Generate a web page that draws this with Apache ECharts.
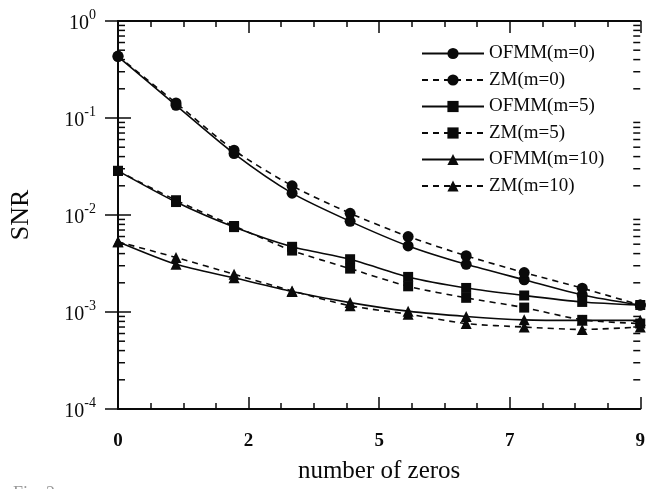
<!DOCTYPE html>
<html>
<head>
<meta charset="utf-8">
<script src="https://cdn.jsdelivr.net/npm/echarts@6/dist/echarts.min.js"></script>
<style>
  html, body { margin: 0; padding: 0; background: #fff; }
  #chart { width: 648px; height: 489px; }
</style>
</head>
<body>
<div id="chart"></div>
<script>
// number of zeros (x) and SNR values
const zeros = [0, 1, 2, 3, 4, 5, 6, 7, 8, 9]
const ofmm0 = [0.43, 0.135, 0.043, 0.0168, 0.0086, 0.0048, 0.0031, 0.00215, 0.0015, 0.00118]
const zm0 = [0.435, 0.143, 0.0465, 0.02, 0.0104, 0.006, 0.0038, 0.00255, 0.00176, 0.00118]
const ofmm5 = [0.0285, 0.0136, 0.0075, 0.0047, 0.0035, 0.0023, 0.00177, 0.00148, 0.00127, 0.00118]
const zm5 = [0.0285, 0.0142, 0.0077, 0.0043, 0.0028, 0.00184, 0.0014, 0.00111, 0.00083, 0.00076]
const ofmm10 = [0.0053, 0.0031, 0.00225, 0.00163, 0.00125, 0.00102, 0.0009, 0.00083, 0.00082, 0.00082]
const zm10 = [0.0053, 0.00365, 0.00245, 0.00165, 0.00116, 0.00095, 0.00076, 0.0007, 0.00066, 0.0007]
const seriesNames = ['OFMM(m=0)', 'ZM(m=0)', 'OFMM(m=5)', 'ZM(m=5)', 'OFMM(m=10)', 'ZM(m=10)']
// x axis runs 0..9 in four steps; labels are the rounded step values
const xMin = 0
const xMax = 9
const xStep = 2.25
// log minor ticks (2..9 per decade)
const minorMantissa = [2, 3, 4, 5, 6, 7, 8, 9]
const decades = [-4, -3, -2, -1]

const ink = '#0a0a0a'
const serif = '"Liberation Serif", "DejaVu Serif", serif'

const pairs = (ys) => zeros.map((x, i) => [x, ys[i]])
const minorValues = []
decades.forEach((d) => minorMantissa.forEach((m) => minorValues.push([xMin, m * Math.pow(10, d)])))

const lineSeries = (name, ys, symbol, size, dashed) => ({
  type: 'line',
  name,
  data: pairs(ys),
  symbol,
  symbolSize: size,
  smooth: 0.25,
  color: ink,
  itemStyle: { color: ink },
  lineStyle: { color: ink, width: 1.6, type: dashed ? [6, 5] : 'solid' },
  emphasis: { disabled: true },
  z: 3,
})

const xAxisBase = {
  type: 'value',
  min: xMin,
  max: xMax,
  interval: xStep,
  axisLine: { show: true, onZero: false, lineStyle: { color: ink, width: 2 } },
  axisTick: { show: true, inside: true, length: 12, lineStyle: { color: ink, width: 1.5 } },
  minorTick: { show: true, splitNumber: 4, length: 6, lineStyle: { color: ink, width: 1.5 } },
  splitLine: { show: false },
}

const yAxisBase = {
  type: 'log',
  logBase: 10,
  min: 1e-4,
  max: 1,
  axisLine: { show: true, lineStyle: { color: ink, width: 2 } },
  axisTick: { show: true, inside: true, length: 13, lineStyle: { color: ink, width: 1.5 } },
  splitLine: { show: false },
}

const chart = echarts.init(document.getElementById('chart'), null, { renderer: 'canvas' })

chart.setOption({
  animation: false,
  backgroundColor: '#fff',
  grid: { left: 116, right: 3, top: 21, bottom: 78 },
  legend: {
    orient: 'vertical',
    left: 421,
    top: 44,
    padding: 0,
    itemWidth: 62,
    itemHeight: 14,
    itemGap: 7.5,
    data: seriesNames,
    textStyle: { color: ink, fontSize: 19, fontFamily: serif },
  },
  xAxis: [
    {
      ...xAxisBase,
      position: 'bottom',
      name: 'number of zeros',
      nameLocation: 'middle',
      nameGap: 50,
      nameTextStyle: { color: ink, fontSize: 25, fontFamily: serif },
      axisLabel: {
        margin: 23,
        color: ink,
        fontSize: 19,
        fontFamily: serif,
        fontWeight: 'bold',
        formatter: (v) => String(Math.round(v)),
      },
    },
    { ...xAxisBase, position: 'top', axisLabel: { show: false } },
  ],
  yAxis: [
    {
      ...yAxisBase,
      position: 'left',
      name: 'SNR',
      nameLocation: 'middle',
      nameGap: 84,
      nameRotate: 90,
      nameTextStyle: { color: ink, fontSize: 26, fontFamily: serif },
      axisLabel: {
        margin: 22,
        color: ink,
        fontFamily: serif,
        formatter: (v) => '{b|10}{s|' + Math.round(Math.log10(v)) + '}',
        rich: {
          b: { fontSize: 20, fontFamily: serif, color: ink, verticalAlign: 'bottom' },
          s: { fontSize: 14, fontFamily: serif, color: ink, verticalAlign: 'bottom', padding: [0, 0, 11, 0] },
        },
      },
    },
    { ...yAxisBase, position: 'right', axisLabel: { show: false } },
  ],
  graphic: [
    {
      type: 'text',
      left: 13,
      top: 485,
      style: { text: 'Fig. 2.', fill: '#999', font: '18px ' + serif },
    },
  ],
  series: [
    lineSeries(seriesNames[0], ofmm0, 'circle', 11, false),
    lineSeries(seriesNames[1], zm0, 'circle', 11, true),
    lineSeries(seriesNames[2], ofmm5, 'rect', 10, false),
    lineSeries(seriesNames[3], zm5, 'rect', 10, true),
    lineSeries(seriesNames[4], ofmm10, 'triangle', 11, false),
    lineSeries(seriesNames[5], zm10, 'triangle', 11, true),
    {
      // minor log ticks on the left and right frame
      type: 'custom',
      silent: true,
      data: minorValues,
      clip: false,
      z: 2,
      renderItem: (params, api) => {
        const v = api.value(1)
        const p = api.coord([xMin, v])
        const q = api.coord([xMax, v])
        const style = { stroke: ink, lineWidth: 1.5 }
        return {
          type: 'group',
          children: [
            { type: 'line', shape: { x1: p[0], y1: p[1], x2: p[0] + 7, y2: p[1] }, style },
            { type: 'line', shape: { x1: q[0], y1: q[1], x2: q[0] - 7, y2: q[1] }, style },
          ],
        }
      },
    },
  ],
})
</script>
</body>
</html>
